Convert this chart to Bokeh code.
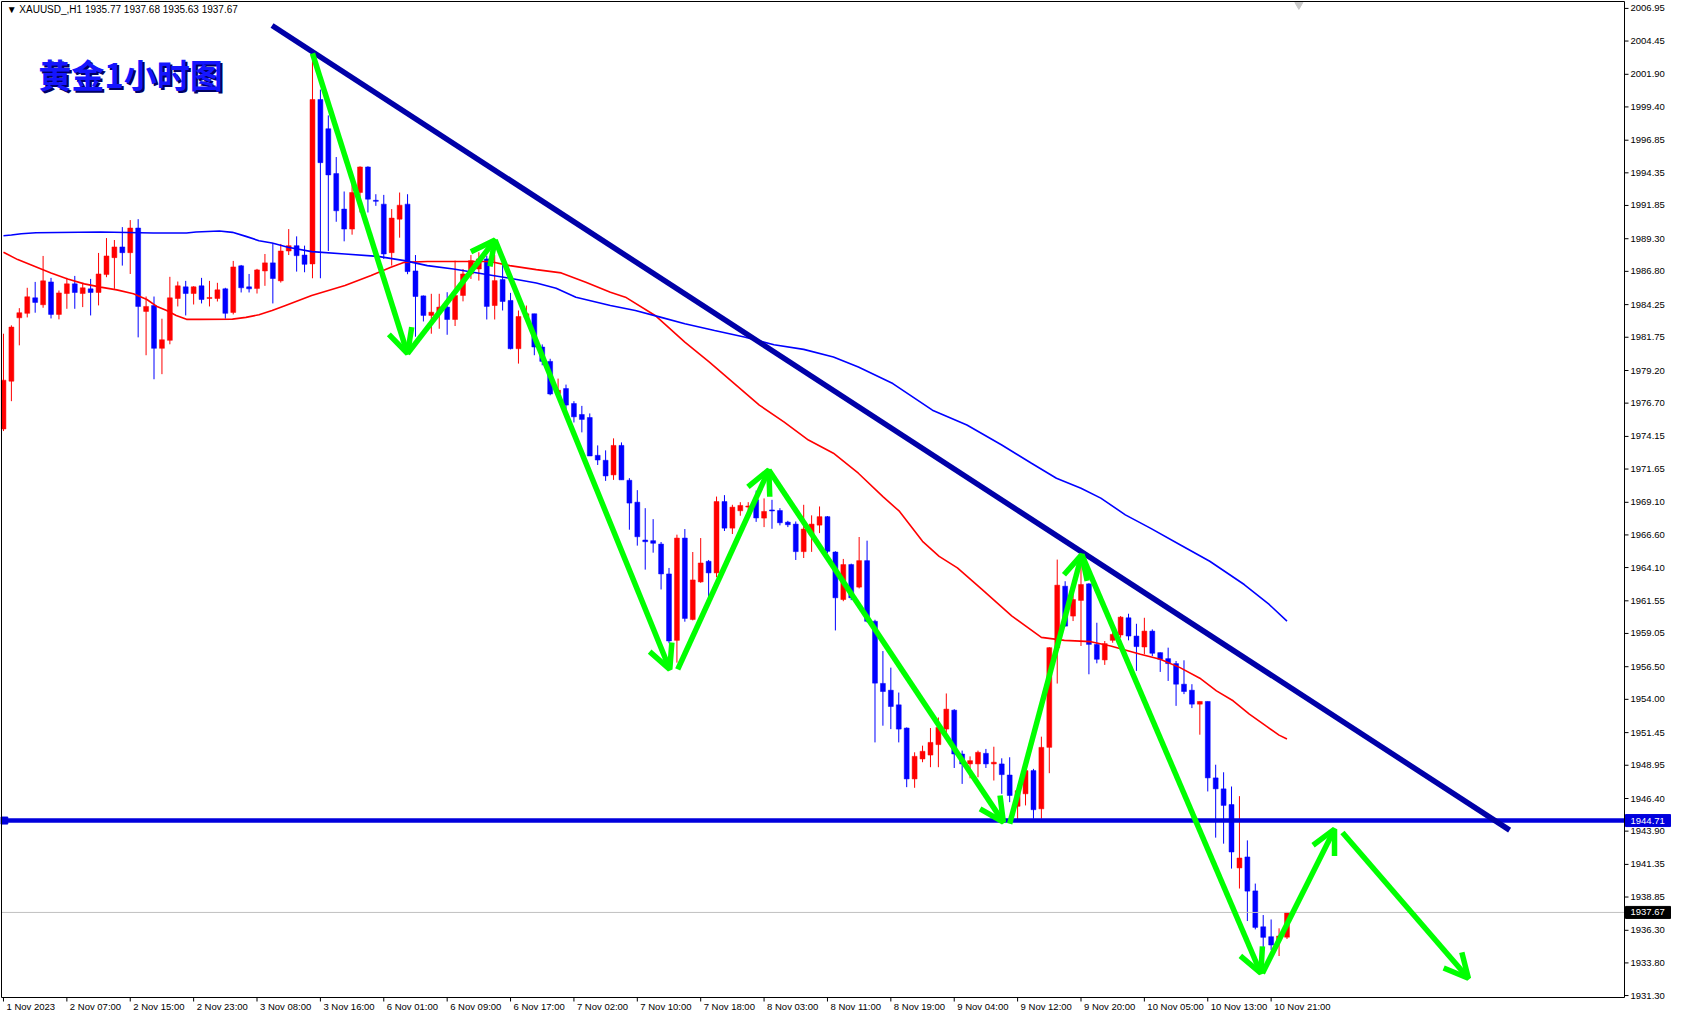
from bokeh.plotting import figure
from bokeh.models import Range1d, ColumnDataSource, Label, Arrow, OpenHead
from bokeh.core.properties import value
from bokeh.embed import file_html
from bokeh.resources import INLINE

# ---------------- data ----------------
opens = [1974.72, 1978.38, 1983.24, 1983.58, 1984.77, 1984.24, 1985.99, 1983.50, 1985.10, 1985.84,
         1985.10, 1985.46, 1985.18, 1986.55, 1987.85, 1988.67, 1988.23, 1990.12, 1983.73, 1984.19,
         1980.90, 1981.51, 1984.72, 1985.61, 1985.10, 1985.69, 1984.72, 1984.72, 1985.46, 1983.65,
         1987.22, 1985.61, 1985.49, 1986.83, 1987.45, 1986.07, 1988.36, 1988.77, 1988.05, 1987.37,
         1999.97, 1997.73, 1994.29, 1991.57, 1990.04, 1992.84, 1994.80, 1992.23, 1991.95, 1988.23,
         1990.80, 1991.95, 1986.83, 1984.92, 1983.42, 1983.67, 1984.06, 1983.11, 1984.95, 1986.60,
         1986.98, 1987.75, 1984.18, 1986.17, 1984.57, 1980.87, 1983.27, 1983.55, 1981.00, 1979.90,
         1977.44, 1977.82, 1976.67, 1975.83, 1975.60, 1972.70, 1972.32, 1971.20, 1973.46, 1970.79,
         1969.11, 1966.21, 1966.16, 1965.90, 1963.61, 1958.52, 1966.36, 1960.12, 1963.00, 1964.58,
         1963.69, 1969.16, 1967.12, 1968.45, 1968.75, 1969.30, 1967.89, 1968.50, 1968.47, 1967.58,
         1967.43, 1965.32, 1966.60, 1967.35, 1968.00, 1965.29, 1961.65, 1964.33, 1962.60, 1964.63,
         1959.98, 1955.22, 1954.70, 1953.58, 1951.80, 1947.90, 1949.43, 1949.73, 1950.53, 1951.72,
         1953.17, 1949.81, 1949.05, 1949.05, 1949.86, 1949.05, 1949.05, 1948.20, 1945.80, 1946.76,
         1948.54, 1945.61, 1950.32, 1957.96, 1962.67, 1960.38, 1961.58, 1962.85, 1958.21, 1957.02,
         1958.52, 1958.93, 1960.25, 1958.85, 1958.01, 1959.23, 1957.58, 1957.12, 1956.74, 1955.16,
         1954.70, 1953.63, 1953.84, 1947.98, 1947.14, 1945.94, 1941.08, 1941.92, 1939.32, 1936.57,
         1935.81, 1935.56, 1935.77]
highs = [1982.02, 1982.66, 1983.98, 1985.54, 1985.99, 1987.98, 1986.30, 1985.33, 1986.30, 1986.45,
         1985.92, 1986.22, 1988.21, 1989.35, 1989.20, 1990.19, 1990.73, 1990.80, 1984.87, 1984.87,
         1983.17, 1986.38, 1986.02, 1986.07, 1985.66, 1986.30, 1986.07, 1985.92, 1985.54, 1987.60,
         1987.29, 1986.60, 1986.99, 1988.13, 1988.90, 1988.90, 1990.04, 1989.48, 1988.77, 2003.53,
         2000.73, 1998.75, 1995.56, 1992.92, 1994.37, 1994.85, 1994.85, 1992.71, 1992.66, 1991.57,
         1992.84, 1992.71, 1988.05, 1984.95, 1985.08, 1985.08, 1985.20, 1987.62, 1986.98, 1988.05,
         1988.26, 1988.00, 1988.05, 1988.00, 1985.15, 1983.80, 1984.18, 1983.55, 1981.20, 1980.10,
         1978.58, 1978.12, 1976.85, 1976.49, 1975.91, 1973.46, 1973.08, 1974.00, 1973.69, 1970.95,
         1970.03, 1968.65, 1967.81, 1966.06, 1964.07, 1966.62, 1967.05, 1965.29, 1966.36, 1964.68,
         1969.54, 1969.65, 1968.91, 1969.11, 1969.11, 1970.00, 1969.40, 1969.29, 1968.65, 1967.68,
         1967.63, 1968.91, 1968.10, 1968.78, 1968.05, 1965.35, 1964.76, 1964.40, 1966.44, 1966.16,
         1960.10, 1957.70, 1956.43, 1954.52, 1951.85, 1949.94, 1950.45, 1951.80, 1952.61, 1954.45,
         1953.25, 1950.07, 1949.63, 1950.07, 1950.20, 1950.37, 1949.48, 1949.56, 1947.40, 1948.67,
         1948.67, 1951.14, 1958.00, 1964.71, 1963.05, 1963.05, 1964.50, 1962.90, 1959.87, 1958.47,
         1959.36, 1960.38, 1960.56, 1959.79, 1960.25, 1959.36, 1957.60, 1957.96, 1956.94, 1956.99,
         1955.16, 1953.84, 1953.84, 1948.99, 1948.41, 1947.32, 1946.58, 1943.19, 1939.88, 1937.47,
         1937.13, 1936.45, 1937.68]
lows = [1974.56, 1976.85, 1981.13, 1983.27, 1983.63, 1984.01, 1983.19, 1983.12, 1983.93, 1983.93,
        1984.06, 1983.42, 1984.19, 1986.35, 1985.46, 1987.24, 1986.60, 1981.74, 1980.37, 1978.53,
        1978.92, 1981.21, 1984.11, 1983.42, 1984.26, 1984.34, 1984.11, 1984.49, 1983.17, 1983.50,
        1985.18, 1985.18, 1985.10, 1985.69, 1984.34, 1985.94, 1988.05, 1986.78, 1986.73, 1986.27,
        1986.27, 1988.36, 1990.60, 1989.10, 1989.61, 1991.31, 1991.31, 1991.82, 1987.75, 1987.24,
        1989.38, 1986.58, 1981.79, 1982.96, 1982.02, 1982.40, 1981.94, 1982.61, 1984.50, 1986.22,
        1986.09, 1983.11, 1983.11, 1983.80, 1980.82, 1979.73, 1983.17, 1980.37, 1979.60, 1977.30,
        1977.31, 1976.24, 1975.22, 1974.46, 1972.65, 1971.96, 1970.74, 1970.82, 1970.82, 1967.00,
        1965.78, 1963.94, 1965.24, 1962.42, 1958.30, 1956.81, 1959.95, 1960.05, 1962.93, 1961.78,
        1963.36, 1966.90, 1966.67, 1968.07, 1968.02, 1967.60, 1967.20, 1967.07, 1967.33, 1967.20,
        1964.68, 1964.83, 1965.30, 1966.74, 1965.20, 1959.28, 1961.52, 1961.60, 1962.50, 1959.90,
        1950.70, 1951.98, 1951.72, 1950.70, 1947.27, 1947.22, 1949.18, 1948.80, 1948.80, 1951.08,
        1948.74, 1947.52, 1947.95, 1948.03, 1948.74, 1947.78, 1946.76, 1946.12, 1944.80, 1945.87,
        1944.85, 1944.85, 1948.34, 1955.21, 1959.60, 1960.00, 1958.09, 1955.92, 1956.76, 1956.64,
        1958.34, 1958.72, 1958.52, 1956.18, 1957.45, 1957.32, 1956.10, 1955.41, 1953.50, 1954.40,
        1953.33, 1951.29, 1946.94, 1943.40, 1942.94, 1941.03, 1939.50, 1937.01, 1936.37, 1934.54,
        1934.79, 1934.33, 1935.63]
closes = [1978.46, 1982.53, 1983.63, 1984.85, 1984.42, 1986.07, 1983.50, 1985.15, 1985.84, 1985.18,
          1985.54, 1985.18, 1986.60, 1987.98, 1988.67, 1988.23, 1990.12, 1984.11, 1984.11, 1980.90,
          1981.56, 1984.77, 1985.69, 1985.10, 1985.61, 1984.64, 1984.80, 1985.38, 1983.58, 1987.14,
          1985.54, 1985.46, 1986.91, 1987.45, 1986.25, 1988.36, 1988.77, 1988.00, 1987.34, 1999.97,
          1995.13, 1994.19, 1991.44, 1990.04, 1992.84, 1994.80, 1992.33, 1992.18, 1988.13, 1990.88,
          1991.87, 1986.78, 1984.87, 1983.42, 1983.67, 1984.06, 1983.11, 1984.95, 1986.60, 1987.62,
          1987.75, 1984.11, 1986.09, 1984.49, 1980.87, 1983.34, 1983.55, 1981.00, 1979.90, 1977.40,
          1977.69, 1976.55, 1975.65, 1975.45, 1972.65, 1972.34, 1971.12, 1973.46, 1970.82, 1969.04,
          1966.46, 1966.08, 1965.96, 1963.61, 1958.47, 1966.36, 1960.20, 1963.15, 1964.45, 1963.69,
          1969.16, 1967.12, 1968.73, 1968.86, 1968.80, 1967.90, 1968.40, 1968.45, 1967.53, 1967.38,
          1965.32, 1967.05, 1967.43, 1968.00, 1965.34, 1961.78, 1964.33, 1961.78, 1964.63, 1959.98,
          1955.24, 1954.60, 1953.45, 1951.72, 1947.90, 1949.63, 1950.02, 1950.70, 1951.85, 1953.25,
          1949.81, 1949.05, 1949.30, 1949.94, 1949.05, 1949.18, 1948.23, 1946.63, 1947.00, 1948.54,
          1945.54, 1950.32, 1957.96, 1962.75, 1959.61, 1961.65, 1962.80, 1958.21, 1957.07, 1958.27,
          1958.98, 1960.30, 1958.85, 1958.04, 1959.23, 1957.53, 1957.07, 1956.74, 1955.16, 1954.60,
          1953.63, 1953.84, 1947.98, 1947.14, 1945.87, 1942.30, 1941.84, 1939.30, 1936.52, 1935.76,
          1935.17, 1935.86, 1937.67]

time_labels = ["1 Nov 2023", "2 Nov 07:00", "2 Nov 15:00", "2 Nov 23:00", "3 Nov 08:00",
               "3 Nov 16:00", "6 Nov 01:00", "6 Nov 09:00", "6 Nov 17:00", "7 Nov 02:00",
               "7 Nov 10:00", "7 Nov 18:00", "8 Nov 03:00", "8 Nov 11:00", "8 Nov 19:00",
               "9 Nov 04:00", "9 Nov 12:00", "9 Nov 20:00", "10 Nov 05:00", "10 Nov 13:00",
               "10 Nov 21:00"]
bars_per_label = 8

price_ticks = [2006.95, 2004.45, 2001.90, 1999.40, 1996.85, 1994.35, 1991.85, 1989.30, 1986.80,
               1984.25, 1981.75, 1979.20, 1976.70, 1974.15, 1971.65, 1969.10, 1966.60, 1964.10,
               1961.55, 1959.05, 1956.50, 1954.00, 1951.45, 1948.95, 1946.40, 1943.90, 1941.35,
               1938.85, 1936.30, 1933.80, 1931.30]

red_ma_x = [0, 1.8, 3.9, 6, 8.1, 10.2, 12.25, 14.3, 16.4, 18.1, 19.3, 20.6, 21.8, 23.1, 24.75,
            28.9, 30.6, 32.25, 33.9, 35.6, 38.9, 43.1, 46.4, 48.9, 50.6, 53.5, 57.7, 61.4, 63.9,
            67.25, 70.4, 73.5, 76.6, 78.5, 82.25, 86, 89.1, 92.25, 95.4, 98.5, 101.6, 104.75,
            107.9, 111, 113.1, 116, 118.1, 120.4, 123.5, 127.25, 131, 133.9, 137.25, 139.75, 141,
            143.5, 146, 148.5, 151, 153.1, 155.2, 157.25, 159.3, 161, 162]
red_ma_y = [1988.26, 1987.70, 1987.19, 1986.68, 1986.22, 1985.84, 1985.59, 1985.38, 1985.08,
            1984.64, 1984.13, 1983.80, 1983.42, 1983.12, 1983.12, 1983.14, 1983.27, 1983.47,
            1983.80, 1984.19, 1984.95, 1985.71, 1986.48, 1987.11, 1987.49, 1987.55, 1987.55,
            1987.55, 1987.24, 1986.93, 1986.68, 1985.97, 1985.20, 1984.82, 1983.42, 1981.38,
            1979.85, 1978.20, 1976.55, 1975.27, 1973.87, 1972.86, 1971.33, 1969.54, 1968.40,
            1966.11, 1964.96, 1964.07, 1962.42, 1960.40, 1958.75, 1958.52, 1958.42, 1958.09,
            1957.88, 1957.45, 1957.07, 1956.43, 1955.62, 1954.65, 1953.89, 1952.87, 1951.98,
            1951.26, 1950.96]
blue_ma_x = [0, 1.0, 2.25, 4.1, 12.25, 18.9, 23.1, 24.3, 27.25, 28.9, 30.6, 32.25, 33.9, 35.9,
             38.9, 43.1, 47.25, 50.6, 53.5, 56.8, 60.6, 63.9, 67.25, 69.75, 72.25, 76.6, 79.75,
             82.9, 86, 89.75, 93.5, 97.25, 101, 104.75, 107.9, 112.25, 117.25, 121.6, 126,
             129.75, 132.9, 136, 138.5, 141.6, 144.75, 148.5, 152.25, 156.6, 159.75, 162]
blue_ma_y = [1989.53, 1989.58, 1989.68, 1989.76, 1989.81, 1989.74, 1989.74, 1989.81, 1989.89,
             1989.79, 1989.48, 1989.15, 1988.97, 1988.64, 1988.31, 1988.13, 1987.95, 1987.62,
             1987.24, 1986.98, 1986.60, 1986.27, 1985.91, 1985.51, 1984.82, 1984.18, 1983.80,
             1983.29, 1982.78, 1982.27, 1981.77, 1981.18, 1980.82, 1980.24, 1979.47, 1978.20,
             1976.16, 1975.02, 1973.49, 1972.09, 1970.94, 1970.18, 1969.42, 1968.14, 1967.12,
             1965.85, 1964.58, 1962.80, 1961.27, 1960.00]

trend_x = [33.9, 190.1]
trend_y = [2005.64, 1943.98]
support_level = 1944.71
last_price = 1937.67

arrow_x0 = [39.0, 51.0, 62.05, 85.1, 96.6, 127.0, 136.1, 158.9, 169.0]
arrow_y0 = [2003.50, 1980.49, 1989.20, 1956.30, 1971.58, 1944.47, 1965.09, 1933.01, 1943.80]
arrow_x1 = [51.0, 62.05, 84.1, 96.6, 126.2, 136.1, 158.7, 168.0, 184.9]
arrow_y1 = [1980.49, 1989.20, 1956.30, 1971.58, 1944.59, 1965.09, 1933.01, 1944.05, 1932.62]

header_text = "\u25bc XAUUSD_,H1  1935.77 1937.68 1935.63 1937.67"
title_text = "黄金1小时图"

# ---------------- layout (pixels) ----------------
W, H = 1672, 1011                 # whole canvas
PL, PR, PT, PB = 1, 1624, 1, 997  # price-panel box inside the canvas
X0, X1 = -0.25, 204.6             # bar range shown in the price panel
Y0, Y1 = 1931.15, 2007.48         # price range shown in the price panel
PPX = (PR - PL) / (X1 - X0)       # px per bar
PPY = (PB - PT) / (Y1 - Y0)       # px per price unit

RED = "#ff0000"
BLUE = "#0000ff"
SUPPORT_BLUE = "#0000dd"
AX_FONT = "Liberation Sans"
AX_SIZE = "9.5px"

p = figure(width=W, height=H, output_backend="svg", toolbar_location=None, title=None,
           x_range=Range1d(X0 - PL / PPX, X1 + (W - PR) / PPX),
           y_range=Range1d(Y0 - (H - PB) / PPY, Y1 + PT / PPY),
           x_axis_location=None, y_axis_location=None, min_border=0)
p.grid.visible = False
p.outline_line_color = None
p.background_fill_color = "white"
p.border_fill_color = "white"

# ---------------- candles ----------------
idx = list(range(len(opens)))
cols = [RED if c >= o else BLUE for o, c in zip(opens, closes)]
tops, bots = [], []
for o, c in zip(opens, closes):
    hi, lo = max(o, c), min(o, c)
    if hi - lo < 0.08:
        m = (hi + lo) / 2
        hi, lo = m + 0.04, m - 0.04
    tops.append(hi)
    bots.append(lo)
src = ColumnDataSource(dict(x=idx, o=opens, h=highs, l=lows, c=closes, top=tops, bot=bots, col=cols))
p.segment(x0="x", y0="l", x1="x", y1="h", line_color="col", line_width=1, source=src)
p.vbar(x="x", width=0.62, top="top", bottom="bot", fill_color="col", line_color="col",
       line_width=0.5, source=src)

# ---------------- moving averages ----------------
p.line(red_ma_x, red_ma_y, line_color=RED, line_width=1.6)
p.line(blue_ma_x, blue_ma_y, line_color=BLUE, line_width=1.6)

# ---------------- horizontal levels ----------------
p.segment(x0=[X0], x1=[X1], y0=[last_price], y1=[last_price], line_color="#c0c0c0", line_width=1)
p.segment(x0=[X0], x1=[X1], y0=[support_level], y1=[support_level], line_color=SUPPORT_BLUE,
          line_width=4.5)
p.scatter([0.1], [support_level], marker="square", size=7, fill_color=SUPPORT_BLUE,
          line_color=SUPPORT_BLUE)

# trend line
p.line(trend_x, trend_y, line_color="#0000a8", line_width=5.5)

# chart-shift marker at top
p.scatter([163.5], [Y1 - 0.25], marker="inverted_triangle", size=8, fill_color="#c8c8c8",
          line_color="#c8c8c8")

# ---------------- price-panel box ----------------
p.quad(left=[X0], right=[X1], bottom=[Y0], top=[Y1], fill_color=None, line_color="black",
       line_width=1)

# ---------------- price axis (right) ----------------
tick_src = ColumnDataSource(dict(y=price_ticks, lab=[f"{t:.2f}" for t in price_ticks]))
p.segment(x0=X1, x1=X1 + 4 / PPX, y0="y", y1="y", line_color="black", line_width=1, source=tick_src)
p.text(x=X1 + 6 / PPX, y="y", text="lab", text_font=value(AX_FONT), text_font_size=value(AX_SIZE),
       text_color="black", text_baseline="middle", text_align="left", source=tick_src)

box_src = ColumnDataSource(dict(y=[support_level, last_price],
                                lab=[f"{support_level:.2f}", f"{last_price:.2f}"],
                                col=[SUPPORT_BLUE, "black"]))
p.rect(x=X1 + 23.5 / PPX, y="y", width=45, width_units="screen", height=12, height_units="screen",
       fill_color="col", line_color="col", source=box_src)
p.text(x=X1 + 6 / PPX, y="y", text="lab", text_font=value(AX_FONT), text_font_size=value(AX_SIZE),
       text_color="white", text_baseline="middle", text_align="left", source=box_src)

# ---------------- time axis (bottom) ----------------
tick_bars = [bars_per_label * i for i in range(len(time_labels))]
time_src = ColumnDataSource(dict(x=tick_bars, lab=time_labels))
p.segment(x0="x", x1="x", y0=Y0, y1=Y0 - 4 / PPY, line_color="black", line_width=1, source=time_src)
p.text(x="x", y=Y0 - 8.5 / PPY, text="lab", x_offset=3, text_font=value(AX_FONT),
       text_font_size=value(AX_SIZE), text_color="black", text_baseline="middle",
       text_align="left", source=time_src)

# ---------------- green arrows ----------------
GREEN = "#00ff00"
asrc = ColumnDataSource(dict(x0=arrow_x0, y0=arrow_y0, x1=arrow_x1, y1=arrow_y1))
p.add_layout(Arrow(end=OpenHead(line_color=GREEN, line_width=5.5, size=24),
                   x_start="x0", y_start="y0", x_end="x1", y_end="y1", source=asrc,
                   line_color=GREEN, line_width=5.5))

# ---------------- texts ----------------
CJK = "Noto Sans CJK SC"
p.add_layout(Label(x=4.4, y=2001.9, x_offset=2, y_offset=-2, text=title_text, text_font=CJK,
                   text_font_size="33px", text_font_style="bold", text_color="#000066",
                   text_baseline="middle", text_align="left"))
p.add_layout(Label(x=4.4, y=2001.9, text=title_text, text_font=CJK,
                   text_font_size="33px", text_font_style="bold", text_color="#1515ff",
                   text_baseline="middle", text_align="left"))
p.add_layout(Label(x=0.4, y=Y1 - 0.65, text=header_text, text_font=AX_FONT,
                   text_font_size="10px", text_color="black", text_baseline="middle",
                   text_align="left"))

open("out.html", "w").write(file_html(p, INLINE))
